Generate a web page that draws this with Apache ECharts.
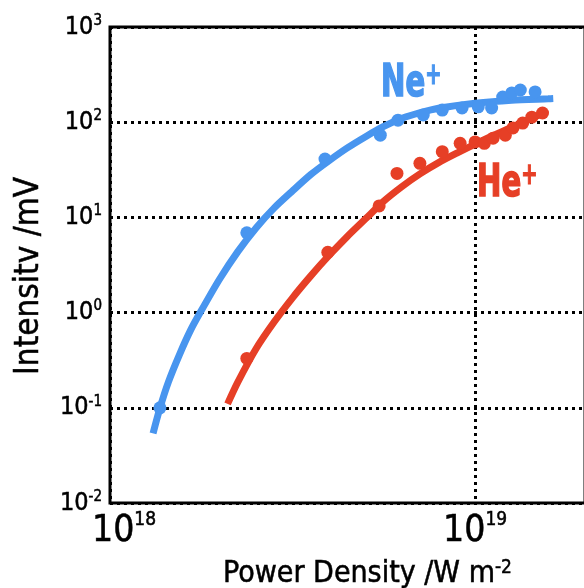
<!DOCTYPE html>
<html>
<head>
<meta charset="utf-8">
<script src="https://cdn.jsdelivr.net/npm/echarts@6/dist/echarts.min.js"></script>
<style>
  html, body { margin: 0; padding: 0; background: #fff; }
  #chart { width: 584px; height: 588px; }
</style>
</head>
<body>
<div id="chart"></div>
<script>
const FONT = '"Liberation Sans Narrow", "DejaVu Sans Condensed", "Roboto Condensed", sans-serif';
const BLUE = '#4895ef';
const RED = '#e63f26';

// Measured ion signals (power density in W m^-2, intensity in mV)
const nePowerDensity = [1.37e18, 2.37e18, 3.88e18, 5.50e18, 6.15e18, 7.21e18, 8.13e18, 9.21e18, 1.02e19, 1.11e19, 1.19e19, 1.26e19, 1.33e19, 1.46e19];
const neIntensity    = [0.10, 6.9, 41, 73, 105, 119, 134, 141, 145, 141, 184, 203, 218, 208];
const hePowerDensity = [2.37e18, 3.95e18, 5.46e18, 6.11e18, 7.06e18, 8.13e18, 9.10e18, 1.00e19, 1.06e19, 1.12e19, 1.21e19, 1.27e19, 1.35e19, 1.43e19, 1.53e19];
const heIntensity    = [0.33, 4.3, 13.2, 29, 37, 49, 60, 62, 60, 68, 73, 87, 98, 113, 125];

// Fitted curves
const neFitX = [1.312e18, 1.371e18, 1.445e18, 1.549e18, 1.660e18, 1.766e18, 1.995e18, 2.239e18, 2.512e18, 2.818e18,
                3.162e18, 3.548e18, 3.981e18, 4.467e18, 5.012e18, 5.623e18, 6.310e18, 7.080e18, 7.943e18, 1.0e19,
                1.259e19, 1.585e19, 1.637e19];
const neFitY = [0.054, 0.10, 0.186, 0.36, 0.646, 1.0, 2.24, 4.37, 7.76, 12.6,
                19.0, 28.2, 39.4, 53.7, 70.5, 90.2, 110, 126, 140, 158,
                170, 176, 177];
const heFitX = [2.099e18, 2.239e18, 2.512e18, 2.818e18, 3.162e18, 3.548e18, 3.981e18, 4.467e18, 5.012e18, 5.623e18,
                6.310e18, 7.080e18, 7.943e18, 8.913e18, 1.0e19, 1.122e19, 1.259e19, 1.413e19, 1.574e19];
const heFitY = [0.110, 0.186, 0.417, 0.80, 1.43, 2.43, 3.98, 6.31, 9.66, 14.8,
                21.1, 28.8, 37.6, 47.3, 58.9, 72.4, 88.5, 108, 129];

// Decade tick exponents
const xTickExponents = ['18', '19'];
const yTickExponents = ['-2', '-1', '0', '1', '2', '3'];

const pairs = (xs, ys) => xs.map((x, i) => [x, ys[i]]);
const exponentOf = v => String(Math.round(Math.log10(v)));

// Slight outline so the condensed text reads a little heavier
const INK = { textBorderColor: '#000', textBorderWidth: 0.5 };

const chart = echarts.init(document.getElementById('chart'), null, { renderer: 'canvas' });

const ionLabel = (text, color, x, y) => ({
  type: 'text', x: x, y: y, scaleX: 0.72, z: 10,
  style: {
    text: '{n|' + text + '}{p|+}',
    rich: {
      n: { fontFamily: FONT, fontWeight: 'bold', fontSize: 45, fill: color, lineHeight: 46, stroke: color, lineWidth: 1.6 },
      p: { fontFamily: FONT, fontWeight: 'bold', fontSize: 30, fill: color, verticalAlign: 'top', lineHeight: 32, stroke: color, lineWidth: 1.2 }
    }
  }
});

chart.setOption({
  animation: false,
  backgroundColor: '#fff',
  grid: {
    left: 110, top: 27, right: -1, bottom: 85,
    containLabel: false, outerBoundsMode: 'none',
    show: true, borderColor: '#000', borderWidth: 3, backgroundColor: 'transparent'
  },
  xAxis: {
    type: 'log', logBase: 10, min: 1e18, max: 2e19,
    name: 'Power Density /W m{s|-2}',
    nameLocation: 'middle', nameGap: 56,
    nameTextStyle: Object.assign({
      fontFamily: FONT, fontSize: 30, color: '#000', padding: [0, 0, 0, 40],
      rich: { s: Object.assign({ fontFamily: FONT, fontSize: 19, color: '#000', verticalAlign: 'top' }, INK) }
    }, INK),
    axisLine: { show: false },
    axisTick: { show: false },
    splitLine: { show: true, lineStyle: { color: '#000', width: 3, type: [3, 4] } },
    axisLabel: {
      showMaxLabel: false,
      margin: 8,
      formatter: v => {
        const e = exponentOf(v);
        if (!xTickExponents.includes(e)) return '';
        return e === xTickExponents[0] ? '{b0|10}{s|' + e + '}' : '{b|10}{s|' + e + '}';
      },
      rich: {
        b: Object.assign({ fontFamily: FONT, fontSize: 37, color: '#000', lineHeight: 40 }, INK),
        b0: Object.assign({ fontFamily: FONT, fontSize: 37, color: '#000', lineHeight: 40, padding: [0, 0, 0, 28] }, INK),
        s: Object.assign({ fontFamily: FONT, fontSize: 19, color: '#000', verticalAlign: 'top', lineHeight: 22 }, INK)
      }
    }
  },
  yAxis: {
    type: 'log', logBase: 10, min: 0.01, max: 1000,
    name: 'Intensitv /mV',
    nameLocation: 'middle', nameGap: 64, nameRotate: 90,
    nameTextStyle: Object.assign({ fontFamily: FONT, fontSize: 33, color: '#000', padding: [0, 22, 0, 0] }, INK),
    axisLine: { show: false },
    axisTick: { show: false },
    splitLine: { show: true, lineStyle: { color: '#000', width: 3, type: [3, 4] } },
    axisLabel: {
      margin: 8,
      formatter: v => {
        const e = exponentOf(v);
        if (!yTickExponents.includes(e)) return '';
        return '{b|10}{s|' + e + '}';
      },
      rich: {
        b: Object.assign({ fontFamily: FONT, fontSize: 25, color: '#000', lineHeight: 27 }, INK),
        s: Object.assign({ fontFamily: FONT, fontSize: 15, color: '#000', verticalAlign: 'top', lineHeight: 17 }, INK)
      }
    }
  },
  series: [
    {
      name: 'Ne+ fit', type: 'line', data: pairs(neFitX, neFitY),
      smooth: 0.25, showSymbol: false, silent: true,
      lineStyle: { color: BLUE, width: 7, cap: 'butt' }, z: 3
    },
    {
      name: 'He+ fit', type: 'line', data: pairs(heFitX, heFitY),
      smooth: 0.25, showSymbol: false, silent: true,
      lineStyle: { color: RED, width: 7, cap: 'butt' }, z: 3
    },
    {
      name: 'Ne+', type: 'scatter', data: pairs(nePowerDensity, neIntensity),
      symbol: 'circle', symbolSize: 13, itemStyle: { color: BLUE, opacity: 1 }, z: 4
    },
    {
      name: 'He+', type: 'scatter', data: pairs(hePowerDensity, heIntensity),
      symbol: 'circle', symbolSize: 13, itemStyle: { color: RED, opacity: 1 }, z: 4
    }
  ],
  graphic: [
    ionLabel('Ne', BLUE, 381, 61),
    ionLabel('He', RED, 477, 161)
  ]
});
</script>
</body>
</html>
